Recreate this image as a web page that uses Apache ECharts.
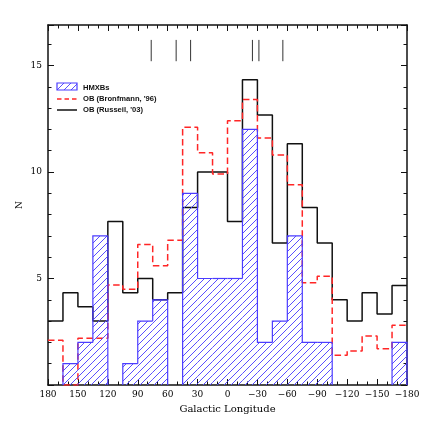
<!DOCTYPE html>
<html>
<head>
<meta charset="utf-8">
<script src="https://cdn.jsdelivr.net/npm/echarts@6/dist/echarts.min.js"></script>
<style>
	html, body { margin: 0; padding: 0; background: #fff; }
	#chart { width: 436px; height: 431px; }
</style>
</head>
<body>
<div id="chart"></div>
<script>
// bin left edges (galactic longitude, 15 deg bins, axis runs 180 -> -180)
var binStarts = [180, 165, 150, 135, 120, 105, 90, 75, 60, 45, 30, 15, 0, -15, -30, -45, -60, -75, -90, -105, -120, -135, -150, -165];
var binWidth = 15;

var hmxb = [0, 1, 2, 7, 0, 1, 3, 4, 0, 9, 5, 5, 5, 12, 2, 3, 7, 2, 2, 0, 0, 0, 0, 2];
var obBronfman = [2.1, 0, 2.2, 2.2, 4.7, 4.5, 6.6, 5.6, 6.8, 12.1, 10.9, 9.9, 12.4, 13.4, 11.6, 10.8, 9.4, 4.8, 5.1, 1.4, 1.6, 2.3, 1.7, 2.8];
var obRusseil = [3, 4.33, 3.67, 3, 7.67, 4.33, 5, 4, 4.33, 8.33, 10, 10, 7.67, 14.33, 12.67, 6.67, 11.33, 8.33, 6.67, 4, 3, 4.33, 3.33, 4.67];

// spiral arm tangents marked at the top
var tangentLongitudes = [76.5, 51.5, 37, -25, -31.5, -55.5];
var markLow = 15.2;
var markHigh = 16.2;

var yLabelValues = [5, 10, 15];
var yMax = 16.9;

var blue = '#4b3cff';
var red = '#ff2626';
var fontAxis = 'DejaVu Serif';

function hatchPattern() { // diagonal "/" hatching
	var s = 7;
	var c = document.createElement('canvas');
	c.width = s;
	c.height = s;
	var ctx = c.getContext('2d');
	ctx.strokeStyle = 'rgba(80,70,255,0.95)';
	ctx.lineWidth = 1;
	ctx.beginPath();
	ctx.moveTo(0, s); ctx.lineTo(s, 0);
	ctx.moveTo(-1, 1); ctx.lineTo(1, -1);
	ctx.moveTo(s - 1, s + 1); ctx.lineTo(s + 1, s - 1);
	ctx.stroke();
	return c;
}
var hatch = { image: hatchPattern(), repeat: 'repeat' };

function stepData(values) {
	var d = [];
	for (var i = 0; i < binStarts.length; i++) {
		d.push([binStarts[i], values[i]]);
	}
	d.push([binStarts[binStarts.length - 1] - binWidth, values[values.length - 1]]);
	return d;
}

var hmxbData = [];
for (var i = 0; i < binStarts.length; i++) {
	hmxbData.push([binStarts[i], binStarts[i] - binWidth, hmxb[i], i > 0 ? hmxb[i - 1] : 0, i == binStarts.length - 1 ? 1 : 0]);
}

function renderHist(params, api) {
	var x0 = api.value(0), x1 = api.value(1), v = api.value(2), prev = api.value(3), isLast = api.value(4);
	var pBase = api.coord([x0, 0]);
	var pTop = api.coord([x1, v]);
	var pPrev = api.coord([x0, prev]);
	var children = [];
	if (v > 0) {
		children.push({
			type: 'rect',
			shape: { x: pBase[0], y: pTop[1], width: pTop[0] - pBase[0], height: pBase[1] - pTop[1] },
			style: { fill: hatch }
		});
	}
	var pts = [[pBase[0], pPrev[1]]];
	if (v > 0) {
		pts.push([pBase[0], pTop[1]]);
		pts.push([pTop[0], pTop[1]]);
		if (isLast) pts.push([pTop[0], pBase[1]]);
	} else {
		pts.push([pBase[0], pBase[1]]);
	}
	children.push({
		type: 'polyline',
		shape: { points: pts },
		style: { stroke: blue, lineWidth: 1.2, fill: null }
	});
	return { type: 'group', children: children };
}

function renderMarks(params, api) {
	var a = api.coord([api.value(0), api.value(1)]);
	var b = api.coord([api.value(0), api.value(2)]);
	return {
		type: 'line',
		shape: { x1: a[0], y1: a[1], x2: b[0], y2: b[1] },
		style: { stroke: '#333', lineWidth: 1 }
	};
}

function lonLabel(v) {
	if (v < 0) return '\u2212' + Math.abs(v);
	return '' + v;
}

function xAxisOpt(pos, showLabel) {
	return {
		type: 'value',
		position: pos,
		min: -180,
		max: 180,
		interval: 30,
		inverse: true,
		axisLine: { show: true, onZero: false, lineStyle: { color: '#111', width: 1.5 } },
		axisTick: { show: true, inside: true, length: 6, lineStyle: { color: '#111', width: 1 } },
		minorTick: { show: true, splitNumber: 3, length: 3.5, lineStyle: { color: '#111', width: 1 } },
		splitLine: { show: false },
		minorSplitLine: { show: false },
		axisLabel: { show: showLabel, color: '#000', fontFamily: fontAxis, fontSize: 9, margin: 5, formatter: lonLabel },
		name: showLabel ? 'Galactic Longitude' : '',
		nameLocation: 'middle',
		nameGap: 19,
		nameMoveOverlap: false,
		nameTextStyle: { color: '#000', fontFamily: fontAxis, fontSize: 10 }
	};
}

function yAxisOpt(pos, interval, len, showLabel, showLine) {
	return {
		type: 'value',
		position: pos,
		min: 0,
		max: yMax,
		interval: interval,
		axisLine: { show: showLine, onZero: false, lineStyle: { color: '#111', width: 1.5 } },
		axisTick: { show: true, inside: true, length: len, lineStyle: { color: '#111', width: 1 } },
		splitLine: { show: false },
		axisLabel: {
			show: showLabel, color: '#000', fontFamily: fontAxis, fontSize: 9, margin: 6,
			formatter: function(v) { return yLabelValues.indexOf(v) >= 0 ? '' + v : ''; }
		},
		name: showLabel ? 'N' : '',
		nameLocation: 'middle',
		nameGap: 24,
		nameMoveOverlap: false,
		nameTextStyle: { color: '#000', fontFamily: fontAxis, fontSize: 9 }
	};
}

function legendText(txt, y) {
	return {
		type: 'text', x: 83, y: y,
		style: { text: txt, fontFamily: 'Liberation Sans', fontSize: 7.6, fontWeight: 'bold', fill: '#111', verticalAlign: 'middle' }
	};
}

var chart = echarts.init(document.getElementById('chart'), null, { renderer: 'canvas' });
var option = {
	animation: false,
	backgroundColor: '#fff',
	grid: { left: 48, right: 29, top: 25, bottom: 46 },
	xAxis: [xAxisOpt('bottom', true), xAxisOpt('top', false)],
	yAxis: [
		yAxisOpt('left', 5, 6, true, true),
		yAxisOpt('left', 1, 3.5, false, false),
		yAxisOpt('right', 5, 6, false, true),
		yAxisOpt('right', 1, 3.5, false, false)
	],
	graphic: [
		{ type: 'rect', shape: { x: 57, y: 83, width: 20, height: 7 }, style: { fill: hatch, stroke: blue, lineWidth: 1.2 } },
		legendText('HMXBs', 87.5),
		{ type: 'line', shape: { x1: 57, y1: 99, x2: 77, y2: 99 }, style: { stroke: red, lineWidth: 1.5, lineDash: [4.5, 3] } },
		legendText("OB (Bronfmann, '96)", 99),
		{ type: 'line', shape: { x1: 57, y1: 110, x2: 77, y2: 110 }, style: { stroke: '#111', lineWidth: 1.5 } },
		legendText("OB (Russeil, '03)", 110)
	],
	series: [{
		name: "OB (Russeil, '03)",
		type: 'line',
		step: 'end',
		showSymbol: false,
		data: stepData(obRusseil),
		lineStyle: { color: '#111', width: 1.5 },
		z: 3
	}, {
		name: "OB (Bronfmann, '96)",
		type: 'line',
		step: 'end',
		showSymbol: false,
		data: stepData(obBronfman),
		lineStyle: { color: red, width: 1.5, type: [6.5, 3.5] },
		z: 4
	}, {
		name: 'HMXBs',
		type: 'custom',
		renderItem: renderHist,
		encode: { x: [0, 1], y: 2 },
		data: hmxbData,
		z: 5
	}, {
		name: 'tangents',
		type: 'custom',
		renderItem: renderMarks,
		encode: { x: 0, y: [1, 2] },
		data: tangentLongitudes.map(function(l) { return [l, markLow, markHigh]; }),
		z: 5
	}]
};
chart.setOption(option);
</script>
</body>
</html>
